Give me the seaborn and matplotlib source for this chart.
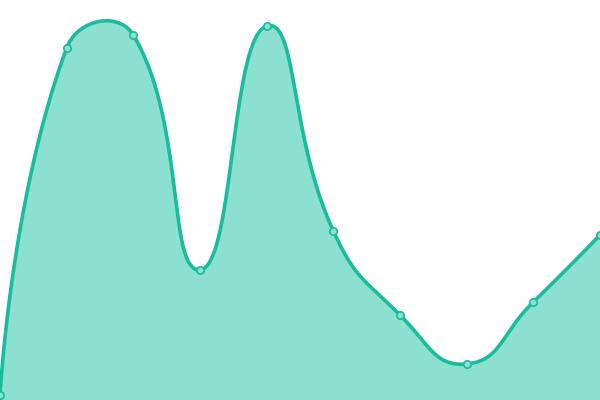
import numpy as np
import pandas as pd
import seaborn as sns
import matplotlib
matplotlib.use("Agg")
import matplotlib.pyplot as plt

# values (y axis 0..400)
positions = list(range(10))
values = [5, 352, 365, 130, 374, 169, 85, 36, 98, 165]

LINE = "#1abc9c"
FILL = "#8be0cf"
W, H = 600, 400


def smooth_curve(px, py, smooth=0.5, steps=40):
    # bezier smoothing in pixel space, control points scaled by segment length
    n = len(px)
    cp_out = []
    cp_in = []
    for i in range(n):
        if i == 0 or i == n - 1:
            cp_in.append((px[i], py[i]))
            cp_out.append((px[i], py[i]))
            continue
        vx = px[i + 1] - px[i - 1]
        vy = py[i + 1] - py[i - 1]
        l0 = np.hypot(px[i] - px[i - 1], py[i] - py[i - 1])
        l1 = np.hypot(px[i + 1] - px[i], py[i + 1] - py[i])
        r = l1 / (l0 + l1)
        cp_in.append((px[i] - vx * smooth * (1 - r), py[i] - vy * smooth * (1 - r)))
        cp_out.append((px[i] + vx * smooth * r, py[i] + vy * smooth * r))
    t = np.linspace(0, 1, steps)[:, None]
    pts = []
    for i in range(n - 1):
        p0 = np.array([px[i], py[i]])
        p1 = np.array(cp_out[i])
        p2 = np.array(cp_in[i + 1])
        p3 = np.array([px[i + 1], py[i + 1]])
        seg = ((1 - t) ** 3) * p0 + 3 * ((1 - t) ** 2) * t * p1 + 3 * (1 - t) * t ** 2 * p2 + t ** 3 * p3
        pts.append(seg if i == 0 else seg[1:])
    pts = np.vstack(pts)
    return pts[:, 0], pts[:, 1]


xscale = W / (len(positions) - 1)
px = [p * xscale for p in positions]
cx, cy = smooth_curve(px, values)
curve = pd.DataFrame({"x": cx / xscale, "y": cy})
pts = pd.DataFrame({"x": positions, "y": values})

sns.set_style("white")
fig = plt.figure(figsize=(6, 4), dpi=100)
ax = fig.add_axes([0, 0, 1, 1])

ax.fill_between(curve["x"], curve["y"], 0, color=FILL, lw=0, zorder=1)
sns.lineplot(data=curve, x="x", y="y", ax=ax, color=LINE, lw=2.6, sort=False, zorder=2)
sns.scatterplot(data=pts, x="x", y="y", ax=ax, s=28, color=FILL, edgecolor=LINE,
                linewidth=1.2, zorder=3, clip_on=False)

ax.set_xlim(0, len(positions) - 1)
ax.set_ylim(0, H)
ax.set_axis_off()

fig.savefig("out.png", dpi=100)
